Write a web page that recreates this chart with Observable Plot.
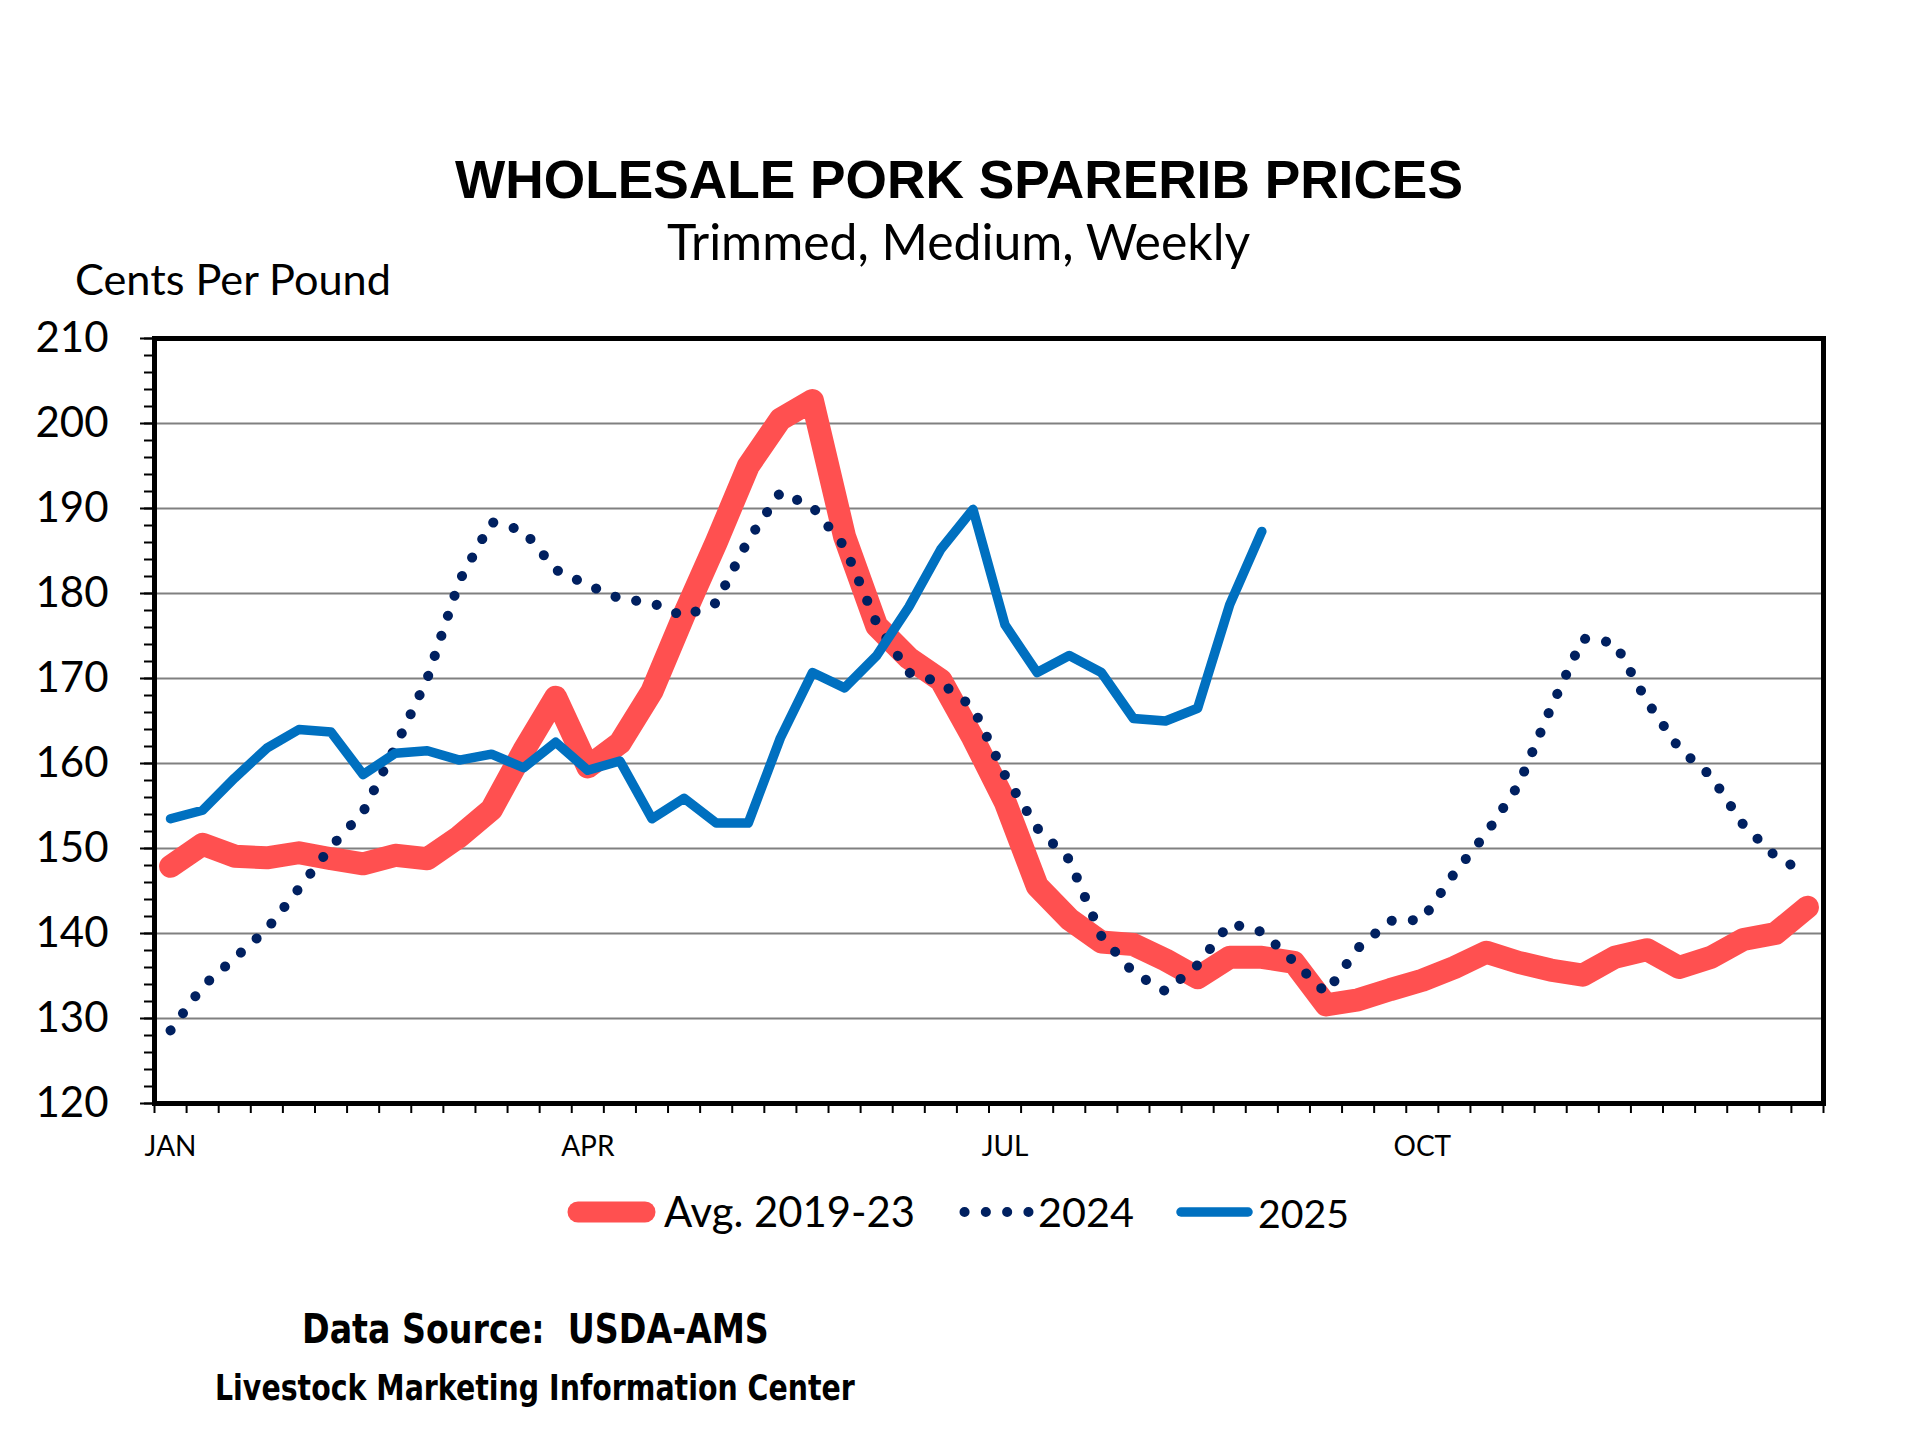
<!DOCTYPE html>
<html>
<head>
<meta charset="utf-8">
<script src="https://cdn.jsdelivr.net/npm/d3@7"></script>
<script src="https://cdn.jsdelivr.net/npm/@observablehq/plot@0.6"></script>
<style>
html, body { margin: 0; padding: 0; background: #fff; }
#page { position: relative; width: 1920px; height: 1440px; background: #fff; overflow: hidden; }
.t { position: absolute; white-space: pre; line-height: 1; color: #000; transform-origin: 0 0; }
#chart { position: absolute; left: 0; top: 300px; }
.sw { position: absolute; overflow: visible; }
</style>
</head>
<body>
<div id="page">
  <div id="title" class="t">WHOLESALE PORK SPARERIB PRICES</div>
  <div id="subtitle" class="t">Trimmed, Medium, Weekly</div>
  <div id="ylabel" class="t">Cents Per Pound</div>
  <div id="chart"></div>
  <svg class="sw" id="sw1" style="left:0;top:0" width="1920" height="1440"></svg>
  <div id="lg1" class="t">Avg. 2019-23</div>
  <div id="lg2" class="t">2024</div>
  <div id="lg3" class="t">2025</div>
  <div id="src" class="t">Data Source:  USDA-AMS</div>
  <div id="lmic" class="t">Livestock Marketing Information Center</div>
</div>
<script>
// ---- data (cents per pound, weekly; week index 0..51) ----
const monthTicks = [0, 13, 26, 39];
const monthLabels = ["JAN", "APR", "JUL", "OCT"];
const yTicks = [120, 130, 140, 150, 160, 170, 180, 190, 200, 210];
const seriesNames = ["Avg. 2019-23", "2024", "2025"];
const avg = [147.9,150.5,149.1,148.9,149.5,148.8,148.2,149.2,148.8,151.4,
             154.6,161.5,167.8,159.6,162.4,168.5,177.5,186.0,195.0,200.5,
             202.7,186.7,176.2,172.4,169.8,163.0,155.5,145.6,141.7,139.0,
             138.7,136.9,134.8,137.2,137.2,136.6,131.6,132.2,133.4,134.5,
             136.0,137.8,136.6,135.7,135.1,137.2,138.1,136.0,137.2,139.3,
             140.0,143.1];
const y2024 = [128.6,133.8,137.1,140.5,145.3,150.2,154.3,161.9,170.0,181.5,
               188.4,187.4,182.8,181.0,179.4,178.9,177.3,178.9,186.3,191.9,
               190.2,185.5,176.5,170.7,169.5,166.6,158.6,152.4,148.7,139.7,
               135.4,133.2,136.3,141.2,140.2,136.7,133.0,138.3,141.5,141.6,
               147.1,151.8,157.5,166.5,174.7,174.2,167.3,161.8,158.5,152.8,
               149.1,147.0];
const y2025 = [153.5,154.5,158.3,161.8,164.0,163.7,158.7,161.2,161.5,160.4,
               161.1,159.5,162.5,159.2,160.3,153.5,155.9,153.0,153.0,163.0,
               170.7,168.9,172.7,178.4,185.2,189.9,176.3,170.7,172.7,170.7,
               165.3,165.0,166.5,178.7,187.3];

const colors = { avg: "#FF5050", y24: "#002060", y25: "#0070C0" };
const calibri = "Lato, 'Open Sans', sans-serif";
const arial = "'Liberation Sans', Arial, sans-serif";
const tahoma = "'DejaVu Sans', Verdana, sans-serif";

// ---- chart ----
const chart = Plot.plot({
  width: 1920,
  height: 900,
  marginLeft: 154,
  marginRight: 97,
  marginTop: 38,
  marginBottom: 97,
  style: { fontFamily: calibri, color: "#000", background: "transparent", overflow: "visible" },
  x: { domain: [-0.5, 51.5], axis: null },
  y: { domain: [120, 210], axis: null },
  marks: [
    Plot.gridY(yTicks.slice(1, -1), { stroke: "#808080", strokeOpacity: 1, strokeWidth: 1.8 }),
    Plot.line(avg, { x: (d, i) => i, y: d => d, stroke: colors.avg, strokeWidth: 23,
                     strokeLinecap: "round", strokeLinejoin: "round" }),
    Plot.line(y2024, { x: (d, i) => i, y: d => d, stroke: colors.y24, strokeWidth: 10,
                       strokeDasharray: "0.1 21", strokeLinecap: "round", strokeLinejoin: "round" }),
    Plot.line(y2025, { x: (d, i) => i, y: d => d, stroke: colors.y25, strokeWidth: 9.5,
                       strokeLinecap: "round", strokeLinejoin: "round" }),
    Plot.frame({ stroke: "#000", strokeWidth: 5 }),
    // minor y ticks
    Plot.axisY({ ticks: d3.range(120, 211, 2), tickSize: 10, strokeWidth: 2, fill: "none", label: null }),
    // major y ticks + labels
    Plot.axisY({ ticks: yTicks, tickSize: 14, tickPadding: 32, strokeWidth: 2, fontSize: 42,
                 tickFormat: d => String(d), label: null }),
    // x ticks at week boundaries
    Plot.axisX({ ticks: d3.range(-0.5, 52, 1), tickSize: 10, strokeWidth: 2, fill: "none", label: null }),
    // month labels
    Plot.axisX({ ticks: monthTicks, tickSize: 0, tickPadding: 33, fontSize: 28,
                 tickFormat: d => monthLabels[monthTicks.indexOf(d)], label: null })
  ]
});
document.getElementById("chart").appendChild(chart);

// ---- text placement (fit widths to the reference layout) ----
const ctx = document.createElement("canvas").getContext("2d");
function place(id, { family, weight = "normal", width, baseline, left, center, cap }) {
  const el = document.getElementById(id);
  ctx.font = `${weight} 100px ${family}`;
  const m = ctx.measureText(el.textContent);
  let size, sx = 1;
  if (cap) {
    const capH = ctx.measureText("H").actualBoundingBoxAscent || 72;
    size = 100 * cap / capH;
    sx = width / (m.width * size / 100);
  } else {
    size = 100 * width / m.width;
  }
  ctx.font = `${weight} ${size}px ${family}`;
  const m2 = ctx.measureText(el.textContent);
  const asc = m2.fontBoundingBoxAscent ?? size * 0.9;
  const desc = m2.fontBoundingBoxDescent ?? size * 0.21;
  el.style.font = `${weight} ${size}px ${family}`;
  el.style.lineHeight = size + "px";
  const off = (size + asc - desc) / 2;
  el.style.top = (baseline - off) + "px";
  el.style.left = (center != null ? center - width / 2 : left) + "px";
  if (sx !== 1) el.style.transform = `scaleX(${sx})`;
}
place("title", { family: arial, weight: "bold", width: 1008, baseline: 198, center: 959 });
place("subtitle", { family: calibri, width: 584, baseline: 261, center: 959 });
place("ylabel", { family: calibri, width: 317, baseline: 296, left: 75 });
place("lg1", { family: calibri, width: 251, baseline: 1228, left: 664 });
place("lg2", { family: calibri, width: 96, baseline: 1228, left: 1038 });
place("lg3", { family: calibri, width: 91, baseline: 1228, left: 1258 });
place("src", { family: tahoma, weight: "bold", width: 467, baseline: 1344, center: 535, cap: 30 });
place("lmic", { family: tahoma, weight: "bold", width: 640, baseline: 1400, center: 535, cap: 26 });

// ---- legend swatches ----
const sw = d3.select("#sw1");
const ly = 1212;
sw.append("line").attr("x1", 578).attr("x2", 645).attr("y1", ly).attr("y2", ly)
  .attr("stroke", colors.avg).attr("stroke-width", 21).attr("stroke-linecap", "round");
sw.append("line").attr("x1", 964.5).attr("x2", 1030).attr("y1", ly).attr("y2", ly)
  .attr("stroke", colors.y24).attr("stroke-width", 10).attr("stroke-linecap", "round")
  .attr("stroke-dasharray", "0.1 21.2");
sw.append("line").attr("x1", 1181).attr("x2", 1248).attr("y1", ly).attr("y2", ly)
  .attr("stroke", colors.y25).attr("stroke-width", 9.5).attr("stroke-linecap", "round");
</script>
</body>
</html>
